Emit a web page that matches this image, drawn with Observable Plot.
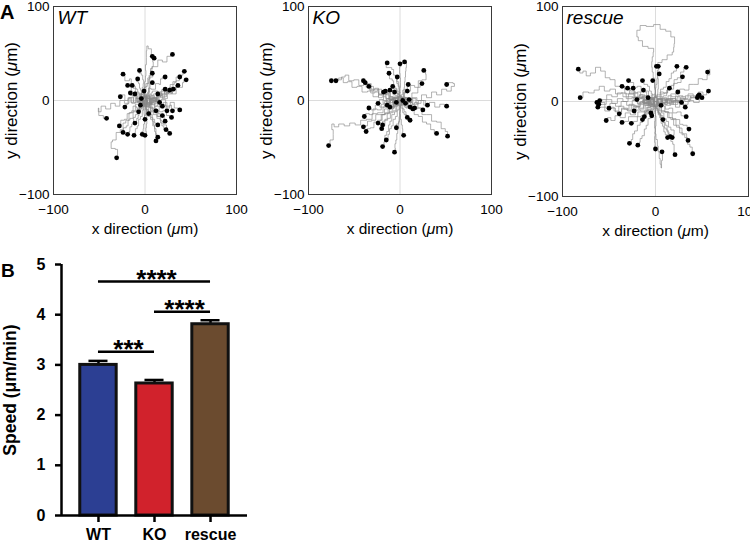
<!DOCTYPE html>
<html><head><meta charset="utf-8">
<script src="https://cdn.jsdelivr.net/npm/d3@7"></script>
<script src="https://cdn.jsdelivr.net/npm/@observablehq/plot@0.6"></script>
<style>
body{margin:0;background:#fff;}
#root{position:relative;width:750px;height:545px;overflow:hidden;background:#fff;font-family:"Liberation Sans",Arial,Helvetica,sans-serif;}
.p{position:absolute;}
.lab{position:absolute;font-weight:bold;line-height:1;color:#000;}
</style></head><body><div id="root"></div>
<script>
// ---------- DATA ----------
const axisRange = [-100, 100];
const axisTicks = [-100, 0, 100];
const panelNames = ["WT", "KO", "rescue"];
const xTitle = "x direction (μm)";
const yTitle = "y direction (μm)";

// tracks: waypoints after the origin (0,0); the last point of each track is its end (dot)
const wtTracks = [
"-4,3 2,9 -3,14 5,18 1,24 8,27 4,34 12,36 16,43 22,41 26,47 30,49",
"4,-3 -2,4 -6,10 2,13 -3,20 4,26 -2,32 3,38 0,46 3,53 1,58 6,55 8,47",
"-3,-4 5,2 1,9 7,13 2,20 8,26 4,32 11,36 7,41 10,45",
"5,-4 9,3 4,8 12,10 16,5 21,12 26,9 29,17 35,19 33,25 40,27 43,31",
"-3,4 6,6 10,0 16,5 22,2 27,10 32,7 36,14 42,14 40,19 45,22",
"3,4 -4,7 -8,2 -12,9 -9,15 -16,17 -14,23 -20,21 -24,28",
"-4,-3 -7,4 -1,8 -5,14 1,18 -4,22 -1,27 -7,29 -6,32",
"4,3 -2,6 3,11 -1,15 6,18 2,23 9,25 8,29",
"-2,5 5,7 3,13 10,12 13,18 18,17 16,23 22,25",
"3,-5 8,2 13,-1 16,7 22,6 24,13 30,14 31,20 37,21 38,25",
"2,4 -5,6 -2,11 -8,13 -4,18 -10,20 -8,23",
"-3,-3 3,-6 7,0 2,5 7,9 3,14 8,19",
"6,5 4,-3 11,-1 14,6 20,3 23,10 28,7 31,13 36,16",
"-2,-4 5,-2 8,5 13,2 15,9 20,7 22,12",
"3,5 8,1 11,7 16,4 19,10 24,7 27,11",
"-4,-4 -7,3 -3,7 -10,9 -13,5 -16,11 -14,15 -19,16",
"3,3 -3,6 -6,2 -9,8 -7,12 -12,13 -14,16",
"-3,4 -7,-2 -10,3 -8,7 -13,5 -16,8",
"-4,-3 -8,2 -13,-3 -16,3 -21,0 -23,6 -27,4",
"3,-2 1,4 -3,1 -1,-3 -5,-1 -4,2",
"3,4 7,0 5,-4 10,2 12,-1 14,7",
"-3,3 -8,-1 -11,4 -14,-2 -17,2 -20,-4 -22,-7",
"2,2 -2,4 -4,-1 0,-4 -3,-7 -5,-5",
"-2,-4 4,-6 6,-2 9,-7 7,-10 12,-11",
"4,3 8,-2 11,3 15,-1 17,-7 19,-6",
"3,-4 8,0 12,-6 15,-2 19,-8 22,-5 24,-11",
"4,2 9,-4 14,1 18,-6 22,-2 26,-8 28,-5 30,-11",
"5,-3 10,3 15,-3 20,1 25,-6 30,-2 34,-8 38,-10",
"-4,3 -10,-2 -15,3 -20,-3 -25,0 -30,-6 -35,-3 -40,-9 -46,-6 -50,-12 -52,-8 -49,-16 -42,-19",
"-3,-4 3,-7 -1,-11 3,-14 -2,-16 1,-20 0,-20",
"3,2 6,-4 11,-2 10,-9 15,-10 14,-14 19,-16",
"-2,-5 5,-7 8,-12 13,-11 15,-17 20,-16 22,-22",
"5,-2 8,-8 14,-6 17,-12 22,-11 25,-16 29,-18",
"-4,-2 -7,-8 -12,-6 -14,-13 -19,-14 -20,-20 -25,-21 -28,-27",
"-4,-3 -2,-9 -8,-11 -5,-16 -10,-19 -8,-22 -11,-24",
"3,-4 1,-10 7,-12 6,-18 11,-20 10,-24 14,-26",
"5,-4 7,-11 12,-13 14,-19 19,-21 18,-27 23,-31",
"2,-6 8,-8 10,-15 16,-17 18,-24 23,-26 24,-32 27,-35",
"-5,-3 -7,-10 -12,-12 -14,-19 -19,-21 -18,-27 -23,-29 -24,-34",
"-2,-6 -8,-8 -8,-15 -13,-18 -12,-25 -17,-28 -16,-33 -19,-36",
"2,-6 -4,-10 -2,-17 -8,-20 -6,-27 -11,-30 -10,-34 -12,-37",
"-4,-5 1,-10 -3,-15 2,-20 -3,-25 0,-30 -4,-33 -3,-36",
"3,-4 -1,-10 4,-14 0,-19 4,-25 -1,-29 3,-33 0,-37",
"-2,-6 4,-10 3,-17 9,-20 8,-27 13,-30 11,-35 14,-39",
"5,-5 3,-12 9,-15 7,-22 12,-26 9,-33 14,-37 12,-43",
"-3,-5 -9,-4 -12,-11 -17,-13 -18,-21 -24,-24 -24,-31 -30,-34 -33,-42 -38,-44 -36,-51 -29,-52 -31,-61",
"-4,3 -6,-3 -2,-6 -6,-9 -7,-12",
"3,-3 -1,-6 3,-9 1,-12 4,-14",
"2,3 -2,4 1,7 -3,8 -1,10",
"3,2 7,-2 10,3 13,-1 16,-2",
"-2,-3 -5,2 -8,-1 -9,5 -11,7",
"4,-3 9,2 14,-1 17,6 22,4 25,9 29,8 31,12"
];

const koTracks = [
"3,5 -3,9 1,15 -5,18 -2,24 -8,27 -6,33 -12,35 -18,39 -14,40",
"-4,4 2,8 -2,14 3,19 -2,24 2,29 -3,33 2,36 0,39",
"4,-3 7,4 2,9 7,14 3,20 8,25 4,31 9,35 5,41",
"5,3 3,9 10,10 13,16 19,14 21,21 27,22 30,28 26,32",
"2,5 -4,7 -3,13 -8,15 -6,21 -11,23 -12,29",
"-3,4 2,8 -3,12 1,16 -4,20 -3,25",
"-5,-3 -10,2 -16,0 -20,6 -27,4 -32,10 -39,9 -44,15 -50,14 -55,20 -60,19 -64,24 -70,22 -75,21",
"-4,3 -10,1 -14,7 -21,6 -25,12 -31,11 -36,17 -43,16 -47,22 -54,21 -58,27 -62,25 -66,22 -70,21",
"-5,-2 -9,4 -14,2 -17,8 -22,7 -25,13 -30,12 -33,18 -38,17 -40,21",
"-3,4 -9,3 -12,8 -18,6 -22,12 -27,10 -31,15 -36,14 -38,19",
"-4,-3 -9,1 -13,-2 -17,4 -22,3 -25,9 -30,8 -34,15",
"-2,4 4,6 2,11 7,12 9,17",
"4,-3 8,3 12,1 14,8 19,8 20,14 24,18",
"5,3 10,-2 16,3 21,0 26,6 32,3 37,9 43,6 48,12 54,10 58,15 61,18 55,19 51,17",
"2,4 -3,6 -1,10 -6,12 -8,15",
"-3,-3 -7,2 -11,0 -13,6 -18,9",
"-4,3 -6,-2 -10,4 -12,8 -16,10",
"-3,-2 -2,5 -7,6 -8,10 -11,11",
"2,3 -3,4 -2,8 -6,9",
"-2,3 4,4 5,8 8,10",
"-4,3 -8,-2 -13,2 -16,-3 -21,1 -24,-3",
"-3,2 -6,-3 -10,0 -12,-5 -14,-5",
"-2,-4 -6,-1 -8,-6 -11,-7",
"-2,2 -4,-2",
"2,-3 3,0",
"3,1 6,-3",
"4,3 7,-2 10,1",
"3,-4 7,-2 9,-7 11,-7",
"4,-2 6,-7 11,-5 14,-9",
"2,-5 8,-3 11,-8 16,-8",
"5,-3 9,2 14,-4 18,-2 21,-8 25,-10",
"4,3 10,-2 15,2 20,-3 26,0 30,-5",
"5,-3 11,1 17,-4 23,0 29,-5 35,-2 41,-7 46,-4 51,-6",
"-5,2 -9,-4 -15,-1 -19,-7 -25,-5 -29,-10 -34,-8",
"-4,-3 -9,1 -13,-5 -19,-4 -22,-10 -28,-9 -31,-15 -36,-14 -39,-17",
"-2,-5 4,-8 2,-13 7,-15 8,-18",
"-5,-2 -7,-8 -12,-8 -14,-14 -19,-15 -20,-21 -24,-24",
"-2,-5 -8,-6 -9,-12 -14,-14 -14,-20 -19,-22 -19,-26",
"-4,-4 -5,-11 -10,-13 -11,-19 -16,-21 -17,-27 -20,-30",
"-5,-3 -9,-9 -15,-9 -19,-15 -25,-15 -28,-21 -34,-22 -37,-27 -40,-28",
"-4,-6 -10,-7 -13,-13 -19,-15 -22,-21 -27,-23 -30,-29 -35,-30 -37,-33",
"3,-4 -2,-8 2,-13 -3,-17 1,-22 -4,-25 -4,-29",
"-3,-5 2,-10 -2,-15 3,-20 0,-26 5,-30 1,-34 4,-37",
"5,-2 8,-8 14,-9 17,-15 23,-17 26,-23 32,-25 35,-31 40,-35",
"6,-4 11,-2 16,-9 22,-8 26,-15 32,-15 37,-22 43,-23 47,-30 52,-33 52,-38",
"2,-6 -4,-10 -2,-17 -8,-20 -7,-27 -12,-30 -11,-36 -15,-42",
"-4,-5 -3,-12 -9,-15 -9,-22 -13,-26 -12,-33 -17,-37 -16,-44 -19,-49",
"3,-6 -2,-11 2,-18 -3,-23 0,-30 -5,-35 -2,-42 -7,-46 -4,-51 -6,-55",
"-5,-3 -10,-8 -16,-7 -21,-13 -28,-14 -33,-20 -40,-21 -46,-26 -52,-24 -58,-27 -64,-25 -70,-28 -74,-25 -75,-31 -71,-36 -75,-42 -78,-48",
"4,-4 2,-9 7,-12 6,-17 11,-21"
];

const rescueTracks = [
"-5,3 -9,-2 -15,4 -21,2 -25,9 -31,8 -35,15 -41,16 -46,23 -52,25 -56,32 -62,36 -67,30 -73,27 -76,32 -80,30 -83,34",
"-5,-3 -11,1 -17,-2 -22,4 -29,3 -34,9 -40,8 -46,13 -52,11 -58,16 -63,12 -69,9 -75,10 -81,4",
"-4,3 -10,-1 -15,4 -21,1 -27,5 -32,0 -38,3 -44,-2 -50,2 -56,-3 -63,-1",
"-5,-2 -10,2 -16,-3 -22,1 -28,-4 -34,0 -40,-5 -46,-2 -52,-6 -57,-1 -61,-3",
"-4,-4 -10,-2 -15,-8 -21,-5 -27,-10 -33,-7 -40,-11 -46,-7 -52,-10 -57,-6 -62,-6",
"-3,4 -9,2 -14,7 -20,4 -26,8 -32,5 -38,9 -44,5 -50,7 -55,2 -60,1",
"-5,2 -9,-4 -15,-1 -20,-6 -26,-3 -31,-8 -37,-5 -42,-10 -47,-6 -50,-7",
"-3,-5 -9,-4 -13,-10 -19,-9 -24,-14 -30,-12 -35,-17 -41,-15 -46,-20 -50,-17 -53,-20",
"-4,2 -9,-3 -14,0 -18,-5 -24,-4 -28,-9 -34,-8 -39,-13",
"-2,-5 -8,-6 -11,-11 -17,-11 -21,-16 -27,-16 -31,-21 -36,-22",
"3,4 -3,7 -6,4 -9,11 -14,10 -17,16 -22,15 -25,20 -29,22",
"-4,3 -8,-1 -12,5 -17,3 -21,9 -26,8 -30,13 -36,16",
"-3,-3 -7,3 -12,1 -15,7 -20,5 -24,11 -30,14",
"-4,4 -7,0 -11,6 -15,5 -17,10 -22,9 -24,14",
"-4,-3 -7,2 -11,-2 -15,3 -20,2",
"-3,2 -7,-4 -11,-1 -15,-7 -19,-5 -23,-10",
"-4,-3 -6,-9 -11,-10 -13,-15 -18,-16 -21,-21 -26,-23",
"-3,-5 -8,-6 -9,-12 -14,-15 -14,-22 -19,-25 -20,-31 -25,-34 -24,-40 -28,-44",
"2,-5 -4,-8 -3,-15 -8,-18 -8,-25 -12,-29 -12,-36 -17,-39 -16,-43 -19,-46",
"-4,3 -2,8 -7,11 -6,16 -11,18 -14,22",
"-3,-3 -5,4 -9,6 -10,10 -13,12",
"3,4 -2,7 2,12 -3,15 1,19 -3,22",
"-3,4 2,9 -3,14 1,20 -4,25 -1,31 -6,36 -2,42 -5,47 0,52 -4,56 -12,58 -16,64 -21,68 -19,75 -14,80 -6,79 2,81 8,76 14,74 19,68 22,61 18,57 21,52 15,49 10,44 4,41 1,37",
"4,3 0,8 5,13 1,18 5,24 0,29 4,33 3,37",
"-2,5 5,7 6,13 11,15 12,21 17,24 17,30 22,32 23,37",
"5,2 7,8 12,9 14,15 19,17 21,23 26,25 28,31 33,36",
"-3,5 2,9 -2,14 3,18 0,24 4,29",
"4,-2 6,5 11,6 13,12 18,13 21,19 26,20 29,26",
"-2,4 4,5 6,10 11,9 15,14",
"5,-2 9,4 15,2 18,8 24,8 28,13 34,12 38,18 44,18 48,24 53,23 58,28 59,34 56,31",
"5,3 10,-1 16,3 21,1 27,6 32,3 38,8 43,5 49,10 53,7 57,11",
"4,-3 8,3 12,1 15,6 20,5 24,10",
"5,-3 10,2 15,-2 20,3 25,0 30,5 35,2 41,6 46,6",
"4,3 9,-1 14,3 19,0 24,5 29,2 35,6 41,4 47,7",
"5,-1 9,3 14,-1 19,3 24,-1 29,3 34,0 40,4 45,4",
"5,2 10,-3 16,1 21,-3 27,1 32,-3 38,1 44,-1 50,4",
"4,3 8,-2 13,2 17,-3 22,1 28,-1",
"5,-3 9,1 14,-4 19,-1 24,-6 28,-3 32,-6",
"4,-4 9,-2 12,-8 17,-7 20,-12 26,-11 29,-15 33,-16",
"3,-5 9,-5 11,-11 17,-12 19,-18 25,-19 27,-24 32,-25 36,-29",
"5,-3 7,-10 12,-11 14,-17 19,-19 20,-25 25,-27 27,-33 32,-34 35,-41",
"-2,-5 4,-8 2,-14 7,-17 5,-23 10,-26 8,-32 13,-35 13,-38",
"3,-4 1,-10 6,-13 5,-19 10,-22 9,-28 14,-30 13,-34 16,-37",
"5,-3 4,-10 9,-12 9,-18 14,-21 14,-27 19,-30 21,-35 18,-38",
"-3,-5 2,-10 -2,-15 3,-21 -2,-26 2,-32 -3,-37 1,-43 -2,-47 0,-50",
"3,-5 -2,-10 2,-16 -3,-21 1,-28 -2,-34 3,-40 1,-47 5,-53 3,-60 7,-66 5,-70 8,-62 7,-53",
"4,-5 3,-12 8,-15 8,-22 13,-25 12,-32 17,-35 16,-42 21,-45 19,-51 21,-56",
"5,-4 8,-10 13,-11 16,-17 21,-19 23,-25 28,-28 29,-35 34,-38 35,-45 39,-48 40,-55",
"-3,-2 -2,-7 -7,-9 -8,-13 -12,-16",
"2,-3 -3,-5 -1,-9 -5,-12",
"-2,-4 2,-7 -2,-10 -1,-13 -4,-15",
"-3,-4 -6,-2 -8,-9 -11,-11 -11,-16 -14,-19",
"-2,-5 3,-7 2,-12 7,-14 5,-17 8,-19",
"-2,3 -5,-1 -6,3 -8,4",
"3,2 4,-3 6,-4"
];

// bar chart
const groups = ["WT", "KO", "rescue"];
const speed = [3.0, 2.63, 3.81];
const sem = [0.08, 0.07, 0.08];
const barColors = ["#2c3f93", "#d1222c", "#6b4b2f"];
const speedTicks = [0, 1, 2, 3, 4, 5];
const speedDomain = [0, 5];
const compFrom = ["WT", "KO", "WT"];
const compTo = ["KO", "rescue", "rescue"];
const compHeight = [3.26, 4.06, 4.66];
const compLabel = ["***", "****", "****"];
const speedTitle = "Speed (μm/min)";

// ---------- HELPERS ----------
const FONT = '"Liberation Sans", Arial, Helvetica, sans-serif';
function parsePts(s) { return s.split(" ").map(p => p.split(",").map(Number)); }
function trackRows(paths) {
  const rows = [];
  paths.forEach((s, id) => {
    rows.push({id, x: 0, y: 0});
    parsePts(s).forEach(([x, y]) => rows.push({id, x, y}));
  });
  return rows;
}
function endRows(paths) {
  return paths.map(s => { const p = parsePts(s); const [x, y] = p[p.length - 1]; return {x, y}; });
}
function italicMu(svg) {
  svg.querySelectorAll("text").forEach(t => {
    const nodes = t.querySelectorAll("tspan").length ? [...t.querySelectorAll("tspan")] : [t];
    nodes.forEach(n => {
      const s = n.textContent; const i = s.indexOf("μ");
      if (i < 0) return;
      n.textContent = "";
      n.append(document.createTextNode(s.slice(0, i)));
      const ts = document.createElementNS("http://www.w3.org/2000/svg", "tspan");
      ts.setAttribute("font-style", "italic");
      ts.textContent = "μ";
      n.append(ts, document.createTextNode(s.slice(i + 1)));
    });
  });
}

function panel(name, paths, width, mr, mb) {
  const svg = Plot.plot({
    width, height: 240, marginLeft: 53, marginRight: mr, marginTop: 6, marginBottom: mb,
    style: {fontFamily: FONT, fontSize: "13.5px", color: "#000", background: "transparent", overflow: "visible"},
    x: {domain: axisRange, label: null},
    y: {domain: axisRange, label: null},
    marks: [
      Plot.ruleX([0], {stroke: "#dcdcdc", strokeWidth: 1}),
      Plot.ruleY([0], {stroke: "#dcdcdc", strokeWidth: 1}),
      Plot.line(trackRows(paths), {x: "x", y: "y", z: "id", stroke: "#8a8a8a", strokeWidth: 0.65, curve: "step"}),
      Plot.dot(endRows(paths), {x: "x", y: "y", r: 2.4, fill: "#000", stroke: null}),
      Plot.frame({stroke: "#3a3a3a", strokeWidth: 1}),
      Plot.axisX({ticks: axisTicks, tickSize: 0, tickPadding: 10, label: null}),
      Plot.axisY({ticks: axisTicks, tickSize: 0, tickPadding: 4, label: null}),
      Plot.text([name], {text: d => d, frameAnchor: "top-left", dx: 4, dy: 4, lineAnchor: "top", textAnchor: "start", fontSize: 19, fontStyle: "italic"}),
      Plot.text([xTitle], {text: d => d, frameAnchor: "bottom", dy: 35, lineAnchor: "middle", textAnchor: "middle", fontSize: 15.5}),
      Plot.text([yTitle], {text: d => d, frameAnchor: "left", dx: -42, rotate: -90, lineAnchor: "middle", textAnchor: "middle", fontSize: 17})
    ]
  });
  italicMu(svg);
  return svg;
}

const root = document.getElementById("root");
function place(el, left, top) {
  const d = document.createElement("div");
  d.className = "p"; d.style.left = left + "px"; d.style.top = top + "px";
  d.append(el); root.append(d);
}

place(panel(panelNames[0], wtTracks, 250, 14, 46), 0, 0);
place(panel(panelNames[1], koTracks, 250, 14, 46), 255, 0);
place(panel(panelNames[2], rescueTracks, 241, 2, 44), 509, 0);

// bar chart
const bars = groups.map((g, i) => ({i, group: g, speed: speed[i], sem: sem[i], color: barColors[i]}));
const sig = compFrom.map((f, k) => ({a: groups.indexOf(f), b: groups.indexOf(compTo[k]), h: compHeight[k], label: compLabel[k]}));
const xDomain = [-0.66, groups.length - 1 + 0.66];
const half = 0.325, cap = 0.17;

const barSvg = Plot.plot({
  width: 260, height: 295, marginLeft: 61, marginRight: 13, marginTop: 14, marginBottom: 30,
  style: {fontFamily: FONT, color: "#000", background: "transparent", overflow: "visible"},
  x: {domain: xDomain, label: null},
  y: {domain: speedDomain, label: null},
  color: {type: "identity"},
  marks: [
    Plot.ruleX(bars, {x: "i", y1: "speed", y2: d => d.speed + d.sem, strokeWidth: 2.5}),
    Plot.ruleY(bars, {x1: d => d.i - cap, x2: d => d.i + cap, y: d => d.speed + d.sem, strokeWidth: 2.5}),
    Plot.rectY(bars, {x1: d => d.i - half, x2: d => d.i + half, y1: 0, y2: "speed", fill: "color", stroke: "#111", strokeWidth: 3}),
    Plot.ruleY(sig, {x1: "a", x2: "b", y: "h", strokeWidth: 2.5}),
    Plot.text(sig, {x: d => (d.a + d.b) / 2, y: "h", text: "label", fontSize: 26, fontWeight: "bold", lineAnchor: "bottom", dy: 6, dx: 2, ariaLabel: "significance"}),
    Plot.ruleX([xDomain[0]], {y1: speedDomain[0], y2: speedDomain[1], strokeWidth: 2.5}),
    Plot.ruleY([0], {strokeWidth: 2.5}),
    Plot.axisY({ticks: speedTicks, tickFormat: d => String(d), tickSize: 6, tickPadding: 10, strokeWidth: 2.5, fontSize: 16, fontWeight: "bold", label: null}),
    Plot.axisX({ticks: bars.map(d => d.i), tickFormat: i => groups[i], tickSize: 7, tickPadding: 6, strokeWidth: 2.5, fontSize: 16, fontWeight: "bold", label: null}),
    Plot.text([speedTitle], {text: d => d, frameAnchor: "left", dx: -51, rotate: -90, lineAnchor: "middle", textAnchor: "middle", fontSize: 17.5, fontWeight: "bold"})
  ]
});
barSvg.querySelectorAll('g[aria-label="significance"] text').forEach(t => t.setAttribute("letter-spacing", "4"));
place(barSvg, 0, 250);

// panel letters
function letter(t, left, top, size) {
  const d = document.createElement("div");
  d.className = "lab"; d.textContent = t;
  d.style.left = left + "px"; d.style.top = top + "px"; d.style.fontSize = size + "px";
  root.append(d);
}
letter("A", 0, 2.4, 20);
letter("B", 1, 260.5, 19);
</script>
</body></html>
